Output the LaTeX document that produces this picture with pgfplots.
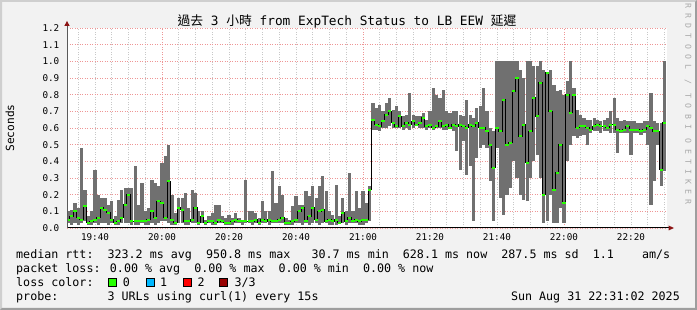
\documentclass[border=0pt]{standalone}
\usepackage{pgfplots}
\pgfplotsset{compat=1.18}
\usepackage{pgfplotstable}
\usepackage{fontspec}
\setmainfont{DejaVu Sans Mono}
\setmonofont{DejaVu Sans Mono}
\newfontfamily\cjk{Noto Sans CJK TC}
\newfontfamily\wmfont[LetterSpace=62]{DejaVu Sans Mono}
\usetikzlibrary{plotmarks}
\definecolor{rrdback}{RGB}{242,242,242}
\definecolor{shadea}{RGB}{207,207,207}
\definecolor{shadeb}{RGB}{158,158,158}
\definecolor{smoke}{RGB}{112,112,112}
\definecolor{lossg}{RGB}{38,255,0}
\definecolor{lossb}{RGB}{0,184,255}
\definecolor{lossr}{RGB}{255,0,0}
\definecolor{lossd}{RGB}{150,0,0}
\definecolor{mgrid}{RGB}{238,150,150}
\definecolor{ngrid}{RGB}{200,200,200}
\definecolor{arrowred}{RGB}{140,20,20}
\definecolor{axgray}{RGB}{90,90,90}
\definecolor{wmgray}{RGB}{170,170,170}

\pgfplotstableread{
t min max med
32 0.03 0.10 0.05
33 0.02 0.11 0.07
34 0.03 0.15 0.10
35 0.02 0.12 0.06
36 0.03 0.48 0.05
37 0.04 0.23 0.13
38 0.02 0.07 0.03
39 0.02 0.10 0.04
40 0.03 0.35 0.05
41 0.02 0.20 0.06
42 0.03 0.18 0.12
43 0.03 0.18 0.11
44 0.02 0.14 0.09
45 0.03 0.16 0.05
46 0.02 0.07 0.03
47 0.02 0.17 0.04
48 0.03 0.23 0.06
49 0.03 0.24 0.14
50 0.03 0.24 0.20
51 0.02 0.24 0.04
52 0.02 0.37 0.04
53 0.02 0.14 0.04
54 0.03 0.27 0.04
55 0.02 0.10 0.04
56 0.02 0.12 0.05
57 0.03 0.29 0.10
58 0.02 0.27 0.06
59 0.03 0.25 0.16
60 0.04 0.39 0.15
61 0.04 0.43 0.06
62 0.03 0.50 0.28
63 0.02 0.20 0.05
64 0.02 0.09 0.03
65 0.03 0.18 0.12
66 0.03 0.18 0.11
67 0.02 0.21 0.04
68 0.02 0.12 0.04
69 0.03 0.23 0.05
70 0.03 0.21 0.12
71 0.02 0.10 0.03
72 0.03 0.10 0.07
73 0.02 0.05 0.03
74 0.03 0.07 0.04
75 0.02 0.09 0.04
76 0.02 0.14 0.03
77 0.03 0.14 0.05
78 0.03 0.07 0.04
79 0.02 0.06 0.03
80 0.02 0.08 0.03
81 0.02 0.06 0.04
82 0.03 0.09 0.05
83 0.03 0.06 0.04
84 0.02 0.05 0.04
85 0.03 0.29 0.04
86 0.03 0.10 0.04
87 0.02 0.10 0.04
88 0.03 0.09 0.05
89 0.02 0.06 0.03
90 0.03 0.16 0.05
91 0.03 0.10 0.04
92 0.02 0.10 0.05
93 0.03 0.34 0.04
94 0.03 0.15 0.04
95 0.03 0.25 0.05
96 0.03 0.20 0.06
97 0.02 0.06 0.03
98 0.02 0.05 0.03
99 0.02 0.13 0.04
100 0.03 0.19 0.05
101 0.03 0.14 0.10
102 0.02 0.14 0.12
103 0.03 0.22 0.04
104 0.02 0.19 0.07
105 0.03 0.25 0.12
106 0.03 0.18 0.05
107 0.02 0.25 0.10
108 0.03 0.31 0.11
109 0.03 0.22 0.04
110 0.02 0.10 0.05
111 0.02 0.08 0.04
112 0.02 0.26 0.05
113 0.03 0.07 0.03
114 0.03 0.18 0.09
115 0.02 0.10 0.04
116 0.03 0.33 0.06
117 0.03 0.10 0.04
118 0.03 0.22 0.05
119 0.02 0.12 0.04
120 0.02 0.22 0.05
121 0.03 0.15 0.05
122 0.04 0.25 0.23
123 0.59 0.75 0.65
124 0.59 0.72 0.62
125 0.58 0.74 0.61
126 0.60 0.70 0.64
127 0.60 0.75 0.68
128 0.61 0.78 0.70
129 0.60 0.71 0.63
130 0.60 0.73 0.61
131 0.60 0.70 0.67
132 0.59 0.67 0.61
133 0.60 0.68 0.63
134 0.59 0.81 0.62
135 0.60 0.68 0.64
136 0.61 0.67 0.62
137 0.60 0.67 0.63
138 0.60 0.69 0.66
139 0.59 0.65 0.61
140 0.60 0.70 0.62
141 0.59 0.84 0.60
142 0.60 0.80 0.61
143 0.60 0.78 0.64
144 0.59 0.83 0.61
145 0.59 0.70 0.62
146 0.60 0.69 0.60
147 0.58 0.70 0.62
148 0.46 0.70 0.61
149 0.35 0.68 0.62
150 0.52 0.67 0.61
151 0.32 0.77 0.60
152 0.37 0.68 0.62
153 0.04 0.66 0.61
154 0.42 0.72 0.63
155 0.48 0.73 0.60
156 0.50 0.84 0.60
157 0.48 0.70 0.58
158 0.28 0.60 0.50
159 0.04 0.58 0.36
160 0.48 1.00 0.60
161 0.18 1.00 0.58
162 0.08 1.00 0.77
163 0.20 1.00 0.50
164 0.24 1.00 0.51
165 0.40 1.00 0.82
166 0.30 1.00 0.90
167 0.20 0.95 0.55
168 0.17 0.90 0.62
169 0.16 1.00 0.39
170 0.30 1.00 0.58
171 0.40 0.97 0.78
172 0.44 0.97 0.67
173 0.30 1.00 0.87
174 0.03 0.95 0.20
175 0.04 0.90 0.93
176 0.20 0.95 0.70
177 0.03 0.86 0.23
178 0.03 0.82 0.33
179 0.12 0.83 0.50
180 0.03 0.80 0.15
181 0.40 0.88 0.80
182 0.50 1.00 0.69
183 0.55 0.84 0.80
184 0.54 0.71 0.60
185 0.55 0.68 0.61
186 0.56 0.66 0.61
187 0.50 0.65 0.60
188 0.57 0.65 0.59
189 0.58 0.66 0.61
190 0.58 0.65 0.62
191 0.57 0.64 0.61
192 0.58 0.65 0.61
193 0.58 0.66 0.60
194 0.57 0.70 0.62
195 0.57 0.78 0.62
196 0.45 0.66 0.59
197 0.57 0.64 0.58
198 0.57 0.65 0.59
199 0.57 0.64 0.61
200 0.44 0.64 0.59
201 0.57 0.64 0.59
202 0.57 0.63 0.59
203 0.56 0.63 0.58
204 0.57 0.64 0.59
205 0.50 0.64 0.61
206 0.14 0.81 0.60
207 0.28 0.64 0.58
208 0.50 0.63 0.58
209 0.25 0.63 0.35
210 0.34 1.00 0.63
}\rtt

\begin{document}
\begin{tikzpicture}
\useasboundingbox (0pt,0pt) rectangle (697pt,310pt);
\fill[rrdback] (0pt,0pt) rectangle (697pt,310pt);
\fill[shadea] (0pt,0pt) -- (0pt,310pt) -- (697pt,310pt) -- (695pt,308pt) -- (2pt,308pt) -- (2pt,2pt) -- cycle;
\fill[shadeb] (0pt,0pt) -- (697pt,0pt) -- (697pt,310pt) -- (695pt,308pt) -- (695pt,2pt) -- (2pt,2pt) -- cycle;
\begin{axis}[
  at={(67pt,82pt)}, anchor=south west,
  scale only axis, width=600pt, height=200pt,
  xmin=31.64, xmax=210.75, ymin=0, ymax=1.2,
  axis background/.style={fill=white},
  axis line style={draw=none},
  tick style={draw=none},
  xtick={40,60,...,200},
  xticklabels={19:40,20:00,20:20,20:40,21:00,21:20,21:40,22:00,22:20},
  minor xtick={35,40,45,50,55,65,70,75,80,85,90,95,100,105,110,115,125,130,135,140,145,150,155,160,165,170,175,185,190,195,200,205,210},
  extra x ticks={60,120,180},
  extra x tick labels={},
  extra x tick style={xmajorgrids=true},
  xmajorgrids=false, xminorgrids=true,
  ytick={0,0.1,...,1.21},
  ymajorgrids=true,
  major grid style={mgrid, line width=0.8pt, dash pattern=on 1pt off 1.5pt},
  minor grid style={ngrid, line width=0.8pt, dash pattern=on 1pt off 1.5pt},
  /pgf/number format/assume math mode=true,
  yticklabel={\pgfmathprintnumber[fixed,fixed zerofill,precision=1]{\tick}},
  ticklabel style={font=\fontsize{9.3}{10}\selectfont},
  yticklabel style={inner sep=0pt, anchor=east, xshift=-7.5pt},
  xticklabel style={inner sep=0pt, anchor=north, yshift=-5.4pt},
]
\addplot[draw=none, mark=none, forget plot,
  error bars/.cd, y dir=both, y explicit, error mark=none,
  error bar style={draw=smoke, line width=3.2pt}]
  table[x=t, y=med,
        y error plus expr=\thisrow{max}-\thisrow{med},
        y error minus expr=\thisrow{med}-\thisrow{min}] {\rtt};
\addplot[black, line width=1pt, const plot mark mid, mark=none] table[x=t, y=med] {\rtt};
\addplot[only marks, mark=-, mark size=1.6pt, mark options={line width=2.2pt, draw=lossg}] table[x=t, y=med] {\rtt};
\end{axis}
% axes with arrows
\draw[black, line width=1pt] (67pt,82pt) -- (669pt,82pt);
\fill[arrowred] (668.5pt,79.5pt) -- (674pt,82pt) -- (668.5pt,84.5pt) -- cycle;
\draw[axgray, line width=1pt] (67pt,82pt) -- (67pt,285pt);
\fill[arrowred] (64.3pt,284pt) -- (67pt,289pt) -- (69.7pt,284pt) -- cycle;
% title
\node[anchor=base, inner sep=0pt, font=\fontsize{12.8}{14}\selectfont] at (347pt,284pt)
  {{\cjk 過去} 3 {\cjk 小時} from ExpTech Status to LB EEW {\cjk 延遲}};
% y label
\node[rotate=90, inner sep=0pt, font=\fontsize{11.2}{12}\selectfont] at (10pt,182pt) {Seconds};
% watermark
\node[rotate=-90, inner sep=0pt, text=wmgray, font=\wmfont\fontsize{8.2}{9}\selectfont] at (688pt,206pt) {RRDTOOL / TOBI OETIKER};
% legend
\begin{scope}[every node/.style={anchor=base west, inner sep=0pt, font=\fontsize{11.68}{12}\selectfont}]
\node at (16pt,51.5pt) {median rtt:~~323.2 ms avg~~950.8 ms max~~~30.7 ms min~~628.1 ms now~~287.5 ms sd~~1.1~~~~am/s};
\node at (16pt,37.6pt) {packet loss: 0.00 \% avg~~0.00 \% max~~0.00 \% min~~0.00 \% now};
\node at (16pt,23.7pt) {loss color:};
\node at (122.7pt,23.7pt) {0};
\node at (160pt,23.7pt) {1};
\node at (197.3pt,23.7pt) {2};
\node at (234.3pt,23.7pt) {3/3};
\node at (16pt,9.8pt) {probe:};
\node at (107.4pt,9.8pt) {3 URLs using curl(1) every 15s};
\node[anchor=base east] at (680pt,9.8pt) {Sun Aug 31 22:31:02 2025};
\end{scope}
\filldraw[fill=lossg, draw=black, line width=0.8pt] (108.5pt,23.5pt) rectangle (116.5pt,32pt);
\filldraw[fill=lossb, draw=black, line width=0.8pt] (145.9pt,23.5pt) rectangle (153.9pt,32pt);
\filldraw[fill=lossr, draw=black, line width=0.8pt] (182.9pt,23.5pt) rectangle (190.9pt,32pt);
\filldraw[fill=lossd, draw=black, line width=0.8pt] (219.5pt,23.5pt) rectangle (227.5pt,32pt);
\end{tikzpicture}
\end{document}
